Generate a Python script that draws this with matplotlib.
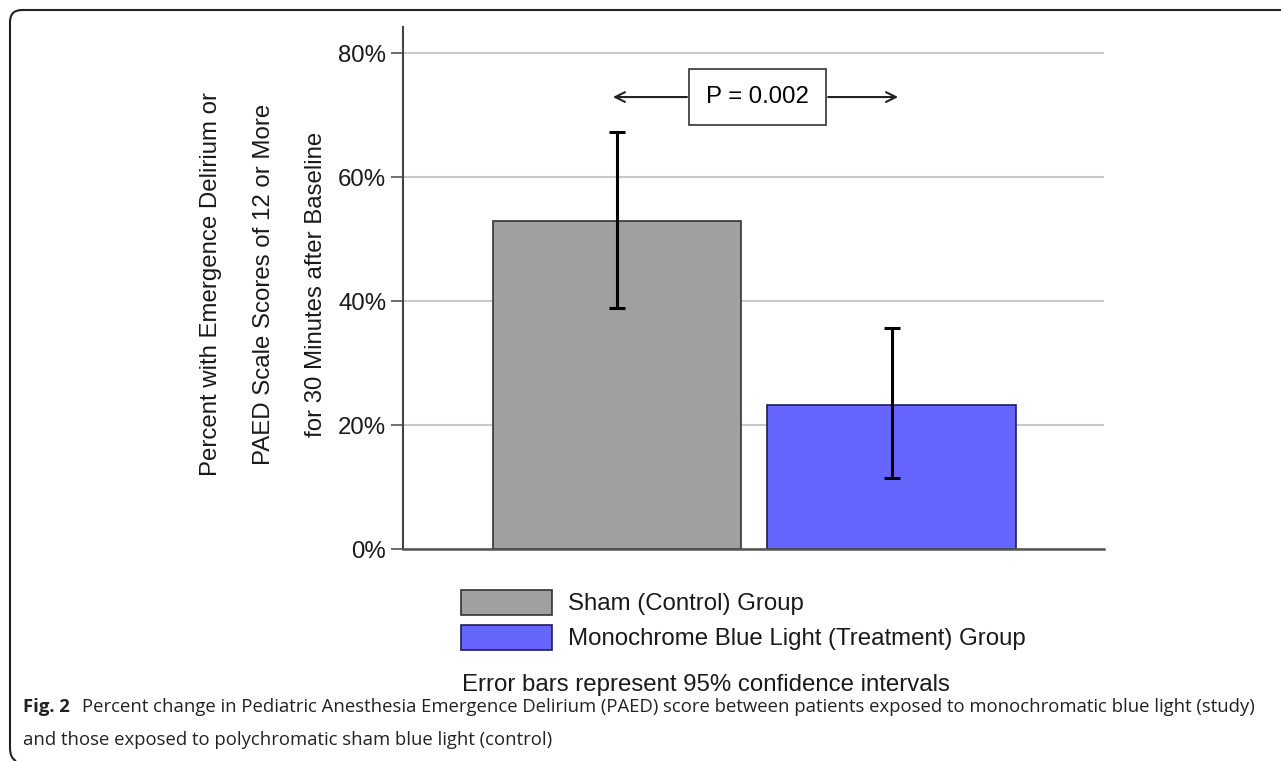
import matplotlib.pyplot as plt
from matplotlib.patches import PathPatch
from matplotlib.path import Path
from matplotlib.ticker import FuncFormatter

# data (percent)
groups = ["Sham (Control) Group", "Monochrome Blue Light (Treatment) Group"]
pct = [52.9, 23.3]
ci_low = [38.8, 11.5]
ci_high = [67.2, 35.6]
p_text = "P = 0.002"
yticks = [0, 20, 40, 60, 80]

bar_colors = ["#a0a0a0", "#6666ff"]
edge_colors = ["#333333", "#1c1c5c"]

W, H = 1281, 761
FS = 17.3
fig = plt.figure(figsize=(W / 100, H / 100), dpi=100)
plt.rcParams["font.family"] = ["Liberation Sans", "DejaVu Sans"]

ax = fig.add_axes([403 / W, 1 - 549 / H, (1104 - 403) / W, (549 - 27) / H])
x = [1, 2]
for xi, v, lo, hi, c, ec, lab in zip(x, pct, ci_low, ci_high, bar_colors, edge_colors, groups):
    ax.bar(xi, v, width=0.904, color=c, edgecolor=ec, linewidth=1.2, label=lab, zorder=2)
    ax.errorbar(xi, v, yerr=[[v - lo], [hi - v]], fmt="none", ecolor="black",
                elinewidth=2.2, capsize=5.5, capthick=2.2, zorder=3)

ax.set_xlim(0.2204, 2.774)
ax.set_ylim(0, 84.2)
ax.set_yticks(yticks)
ax.yaxis.set_major_formatter(FuncFormatter(lambda v, _: f"{v:.0f}%"))
ax.set_xticks([])
ax.tick_params(axis="y", length=9, width=1.2, color="#555555", pad=3, labelsize=FS,
               labelcolor="#1a1a1a")
for s in ["top", "right"]:
    ax.spines[s].set_visible(False)
ax.spines["left"].set_color("#444444")
ax.spines["left"].set_linewidth(1.5)
ax.spines["bottom"].set_color("#555555")
ax.spines["bottom"].set_linewidth(1.8)
ax.grid(axis="y", color="#c8c8c8", linewidth=1.5, zorder=0)
ax.set_axisbelow(True)

# p-value box with arrows
ax.text(1.512, 72.9, p_text, ha="center", va="center", fontsize=FS,
        bbox=dict(boxstyle="square,pad=0.72", facecolor="white", edgecolor="#333333", linewidth=1.2),
        zorder=5)
arrow = dict(arrowstyle="->,head_length=0.7,head_width=0.35", color="#222222", lw=1.5,
             shrinkA=0, shrinkB=0)
ax.annotate("", xy=(0.985, 72.9), xytext=(1.255, 72.9), arrowprops=arrow)
ax.annotate("", xy=(2.024, 72.9), xytext=(1.769, 72.9), arrowprops=arrow)

# y label, three lines
ylines = ["Percent with Emergence Delirium or", "PAED Scale Scores of 12 or More",
          "for 30 Minutes after Baseline"]
for xp, t in zip([211, 264, 316], ylines):
    fig.text(xp / W, 1 - 284 / H, t, rotation=90, ha="center", va="center", fontsize=FS,
             color="#1a1a1a")

# legend
ax.legend(loc="upper left", bbox_to_anchor=(461 / W, 1 - 590 / H), bbox_transform=fig.transFigure,
          frameon=False, fontsize=FS, handlelength=3.8, handleheight=1.2,
          handletextpad=0.65, labelspacing=0.4, borderpad=0, borderaxespad=0,
          labelcolor="#1a1a1a")
fig.text(462 / W, 1 - 685 / H, "Error bars represent 95% confidence intervals",
         ha="left", va="center", fontsize=FS, color="#1a1a1a")

# caption
cap = dict(family=["Open Sans", "DejaVu Sans"], fontsize=13.3, color="#222222")
fig.text(23 / W, 1 - 707 / H, "Fig. 2", ha="left", va="center", fontweight="bold", **cap)
fig.text(82 / W, 1 - 707 / H,
         "Percent change in Pediatric Anesthesia Emergence Delirium (PAED) score between patients "
         "exposed to monochromatic blue light (study)", ha="left", va="center", **cap)
fig.text(23 / W, 1 - 740 / H, "and those exposed to polychromatic sham blue light (control)",
         ha="left", va="center", **cap)

# rounded frame (top and left edges)
verts = [(W, 10), (22, 10), (10, 10), (10, 22), (10, 748), (10, 758), (16, 761)]
codes = [Path.MOVETO, Path.LINETO, Path.CURVE3, Path.CURVE3, Path.LINETO, Path.CURVE3, Path.CURVE3]
verts = [(vx / W, 1 - vy / H) for vx, vy in verts]
fig.patches.append(PathPatch(Path(verts, codes), transform=fig.transFigure,
                             fill=False, edgecolor="#222222", linewidth=1.5))

fig.savefig("out.png", dpi=100)
